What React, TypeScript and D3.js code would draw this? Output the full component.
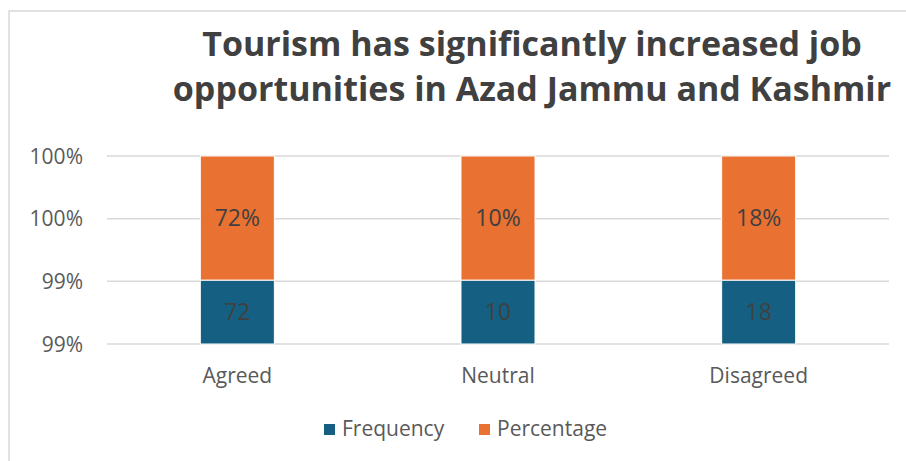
import React from "react";
import * as d3 from "d3";

const categories = ["Agreed", "Neutral", "Disagreed"];
const frequency = [72, 10, 18];
const percentage = [0.72, 0.1, 0.18];
const seriesNames = ["Frequency", "Percentage"];
const seriesColors = ["#156082", "#E97132"];
const yTickValues = [0.985, 0.99, 0.995, 1.0];
const yTickLabels = ["99%", "99%", "100%", "100%"];
const titleLines = [
  "Tourism has significantly increased job",
  "opportunities in Azad Jammu and Kashmir",
];

const W = 906;
const H = 461;
const plot = { left: 107, right: 889, top: 156, bottom: 344 };
const FONT = "'Open Sans', 'Liberation Sans', Arial, sans-serif";

export default function App() {
  const rows = categories.map((c, i) => ({
    category: c,
    Frequency: frequency[i],
    Percentage: percentage[i],
  }));
  const stacked = d3
    .stack<any>()
    .keys(seriesNames)
    .offset(d3.stackOffsetExpand)(rows);

  const x = d3
    .scaleBand<string>()
    .domain(categories)
    .range([plot.left, plot.right])
    .paddingInner(0.716)
    .paddingOuter(0.358);
  const y = d3
    .scaleLinear()
    .domain([yTickValues[0], yTickValues[yTickValues.length - 1]])
    .range([plot.bottom, plot.top])
    .clamp(true);

  const labelText = (si: number, i: number) =>
    si === 0 ? String(frequency[i]) : d3.format(".0%")(percentage[i]);

  return (
    <svg
      width={W}
      height={H}
      style={{ position: "absolute", left: 0, top: 0, background: "#fff" }}
    >
      <rect x={9} y={11} width={1200} height={1200} fill="#fff" stroke="#d9d9d9" strokeWidth={1.5} />
      {titleLines.map((t, i) => (
        <text
          key={i}
          x={532}
          y={56 + i * 45}
          textAnchor="middle"
          fontFamily={FONT}
          fontWeight={700}
          fontSize={34}
          fill="#404040"
        >
          {t}
        </text>
      ))}
      {yTickValues.map((v, i) => (
        <g key={i}>
          <line x1={plot.left} x2={plot.right} y1={y(v)} y2={y(v)} stroke="#d9d9d9" strokeWidth={1.5} />
          <text
            x={83}
            y={y(v)}
            dy="0.36em"
            textAnchor="end"
            fontFamily={FONT}
            fontSize={21}
            fill="#595959"
          >
            {yTickLabels[i]}
          </text>
        </g>
      ))}
      {stacked.map((s, si) => (
        <g key={s.key}>
          {s.map((d: any, i: number) => {
            const y0 = y(d[0]);
            const y1 = y(d[1]);
            const bx = x(categories[i]) as number;
            return (
              <g key={i}>
                <rect
                  x={bx}
                  y={y1}
                  width={x.bandwidth()}
                  height={y0 - y1}
                  fill={seriesColors[si]}
                  stroke="#fff"
                  strokeWidth={1}
                />
                <text
                  x={bx + x.bandwidth() / 2}
                  y={(y0 + y1) / 2}
                  dy="0.36em"
                  textAnchor="middle"
                  fontFamily={FONT}
                  fontSize={23}
                  fill="#404040"
                >
                  {labelText(si, i)}
                </text>
              </g>
            );
          })}
        </g>
      ))}
      {categories.map((c) => (
        <text
          key={c}
          x={(x(c) as number) + x.bandwidth() / 2}
          y={383}
          textAnchor="middle"
          fontFamily={FONT}
          fontSize={21}
          fill="#595959"
        >
          {c}
        </text>
      ))}
      {seriesNames.map((n, i) => {
        const lx = [324, 479][i];
        return (
          <g key={n}>
            <rect x={lx} y={424} width={11} height={11} fill={seriesColors[i]} />
            <text x={lx + 18} y={436} fontFamily={FONT} fontSize={21} fill="#595959">
              {n}
            </text>
          </g>
        );
      })}
    </svg>
  );
}
